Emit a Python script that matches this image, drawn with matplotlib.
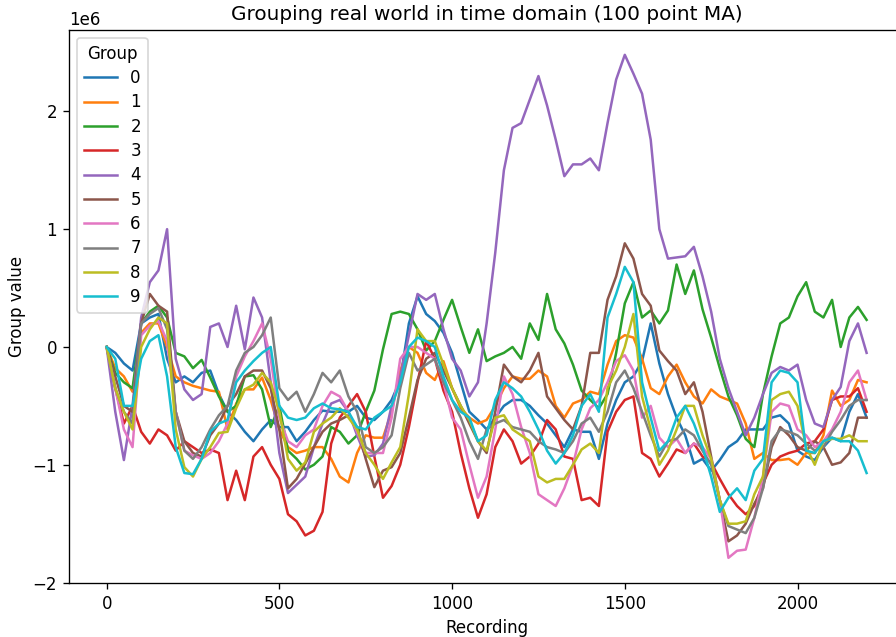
# %% imports
import numpy as np
import matplotlib
matplotlib.use('Agg')
import matplotlib.pyplot as plt

# %% data (group values in millions, every 25 recordings)
recording = np.arange(0, 2201, 25)

g0 = [0.0, -0.05, -0.14, -0.2, 0.2, 0.25, 0.28, -0.1,
      -0.3, -0.25, -0.3, -0.22, -0.2, -0.4, -0.55, -0.62,
      -0.72, -0.8, -0.7, -0.62, -0.68, -0.68, -0.8, -0.72,
      -0.62, -0.54, -0.55, -0.55, -0.55, -0.5, -0.6, -0.62,
      -0.55, -0.45, -0.28, 0.2, 0.43, 0.28, 0.22, 0.12,
      -0.05, -0.3, -0.55, -0.62, -0.7, -0.6, -0.5, -0.45,
      -0.45, -0.5, -0.58, -0.65, -0.75, -0.85, -0.7, -0.72,
      -0.72, -0.95, -0.65, -0.45, -0.3, -0.25, -0.12, 0.2,
      -0.14, -0.4, -0.6, -0.75, -0.99, -0.95, -1.05, -0.96,
      -0.85, -0.8, -0.7, -0.7, -0.7, -0.6, -0.58, -0.65,
      -0.88, -0.93, -0.96, -0.85, -0.77, -0.8, -0.55, -0.4,
      -0.6]
g1 = [0.0, -0.18, -0.25, -0.38, 0.12, 0.2, 0.2, 0.0,
      -0.25, -0.3, -0.33, -0.35, -0.37, -0.38, -0.7, -0.48,
      -0.36, -0.36, -0.26, -0.45, -0.7, -0.85, -0.9, -0.88,
      -0.85, -0.85, -0.95, -1.1, -1.15, -0.9, -0.75, -0.77,
      -0.77, -0.55, -0.2, 0.0, -0.05, -0.22, -0.28, -0.12,
      -0.35, -0.52, -0.6, -0.65, -0.62, -0.5, -0.35, -0.25,
      -0.27, -0.27, -0.2, -0.25, -0.5, -0.6, -0.48, -0.45,
      -0.38, -0.4, -0.15, 0.05, 0.1, 0.08, -0.1, -0.35,
      -0.4, -0.25, -0.15, -0.3, -0.42, -0.48, -0.36, -0.42,
      -0.45, -0.48, -0.65, -0.95, -0.9, -0.96, -0.96, -0.95,
      -1.0, -0.9, -0.9, -0.75, -0.37, -0.5, -0.45, -0.28,
      -0.3]
g2 = [0.0, -0.22, -0.3, -0.35, 0.2, 0.3, 0.35, 0.25,
      -0.05, -0.08, -0.18, -0.11, -0.26, -0.42, -0.55, -0.5,
      -0.25, -0.24, -0.36, -0.68, -0.5, -0.88, -0.95, -1.04,
      -1.0, -0.93, -0.68, -0.72, -0.82, -0.75, -0.55, -0.37,
      -0.02, 0.28, 0.3, 0.28, 0.15, -0.03, 0.05, 0.23,
      0.4, 0.17, -0.05, 0.15, -0.12, -0.08, -0.05, 0.0,
      -0.1, 0.2, 0.06, 0.45, 0.15, 0.03, -0.15, -0.37,
      -0.45, -0.52, -0.4, -0.05, 0.37, 0.55, 0.25, 0.31,
      0.2, 0.31, 0.7, 0.45, 0.65, 0.32, 0.08, -0.18,
      -0.42, -0.58, -0.78, -0.85, -0.4, -0.08, 0.2, 0.25,
      0.43, 0.55, 0.3, 0.25, 0.4, 0.0, 0.25, 0.34,
      0.23]
g3 = [0.0, -0.35, -0.65, -0.5, -0.72, -0.82, -0.7, -0.75,
      -0.88, -0.8, -0.85, -0.9, -0.87, -0.9, -1.3, -1.05,
      -1.3, -0.93, -0.85, -1.0, -1.12, -1.42, -1.48, -1.6,
      -1.56, -1.4, -0.82, -0.6, -0.5, -0.4, -0.55, -0.93,
      -1.28, -1.18, -1.0, -0.68, -0.3, 0.05, -0.1, -0.37,
      -0.55, -0.9, -1.2, -1.45, -1.25, -0.85, -0.7, -0.8,
      -0.99, -0.93, -0.82, -0.62, -0.7, -0.93, -0.95, -1.3,
      -1.28, -1.35, -0.72, -0.55, -0.45, -0.42, -0.9, -0.95,
      -1.1, -0.99, -0.87, -0.9, -0.82, -0.93, -0.98, -1.12,
      -1.25, -1.35, -1.42, -1.35, -1.16, -1.0, -0.93, -0.9,
      -0.88, -0.82, -0.8, -0.7, -0.45, -0.42, -0.42, -0.35,
      -0.55]
g4 = [0.0, -0.55, -0.96, -0.5, 0.25, 0.55, 0.65, 1.0,
      -0.1, -0.36, -0.45, -0.4, 0.17, 0.2, 0.0, 0.35,
      -0.02, 0.42, 0.25, -0.3, -0.9, -1.24, -1.17, -1.1,
      -0.85, -0.65, -0.48, -0.45, -0.55, -0.75, -0.93, -0.92,
      -0.82, -0.5, -0.25, 0.1, 0.45, 0.4, 0.45, 0.15,
      -0.1, -0.2, -0.42, -0.3, 0.2, 0.8, 1.5, 1.86,
      1.9, 2.1, 2.3, 2.05, 1.76, 1.45, 1.55, 1.55,
      1.6, 1.5, 1.9, 2.27, 2.48, 2.32, 2.15, 1.76,
      1.0, 0.75, 0.76, 0.77, 0.85, 0.6, 0.3, -0.1,
      -0.35, -0.55, -0.75, -0.6, -0.4, -0.22, -0.17, -0.2,
      -0.15, -0.45, -0.65, -0.68, -0.45, -0.34, 0.05, 0.2,
      -0.05]
g5 = [0.0, -0.25, -0.5, -0.55, 0.2, 0.45, 0.35, 0.3,
      -0.55, -0.8, -0.9, -0.93, -0.75, -0.65, -0.5, -0.4,
      -0.25, -0.2, -0.2, -0.35, -0.7, -1.2, -1.12, -0.99,
      -0.85, -0.72, -0.65, -0.62, -0.58, -0.68, -0.95, -1.19,
      -1.05, -1.02, -0.9, -0.6, -0.28, -0.1, -0.05, -0.2,
      -0.35, -0.5, -0.65, -0.8, -0.9, -0.55, -0.15, -0.25,
      -0.3, -0.2, -0.05, -0.42, -0.52, -0.62, -0.7, -0.5,
      -0.05, -0.05, 0.4, 0.6, 0.88, 0.75, 0.45, 0.35,
      -0.03, -0.12, -0.2, -0.4, -0.3, -0.55, -0.93, -1.3,
      -1.65, -1.6, -1.5, -1.33, -1.2, -0.85, -0.68, -0.75,
      -0.85, -0.88, -0.8, -0.85, -1.0, -0.98, -0.9, -0.6,
      -0.6]
g6 = [0.0, -0.35, -0.7, -0.85, 0.1, 0.18, 0.22, 0.05,
      -0.55, -0.88, -0.92, -0.95, -0.9, -0.8, -0.65, -0.25,
      -0.08, 0.05, 0.2, -0.1, -0.6, -0.8, -0.85, -0.75,
      -0.7, -0.5, -0.38, -0.42, -0.55, -0.72, -0.9, -0.9,
      -0.9, -0.6, -0.1, 0.0, 0.0, -0.05, -0.1, -0.3,
      -0.6, -0.7, -1.0, -1.28, -1.1, -0.7, -0.25, -0.4,
      -0.68, -0.9, -1.25, -1.3, -1.35, -1.2, -1.0, -0.7,
      -0.52, -0.45, -0.3, -0.12, -0.07, -0.2, -0.6, -0.5,
      -0.77, -0.85, -0.78, -0.9, -0.82, -0.85, -0.95, -1.3,
      -1.79, -1.73, -1.72, -1.45, -1.1, -0.55, -0.48, -0.5,
      -0.7, -0.75, -0.85, -0.8, -0.7, -0.55, -0.3, -0.2,
      -0.45]
g7 = [0.0, -0.35, -0.55, -0.65, 0.2, 0.28, 0.33, 0.15,
      -0.55, -0.88, -0.95, -0.85, -0.7, -0.58, -0.5, -0.2,
      -0.05, 0.0, 0.1, 0.25, -0.35, -0.45, -0.38, -0.55,
      -0.4, -0.22, -0.3, -0.2, -0.42, -0.55, -0.85, -0.9,
      -0.85, -0.75, -0.35, -0.05, -0.2, -0.15, -0.1, -0.3,
      -0.45, -0.6, -0.8, -0.95, -0.7, -0.65, -0.62, -0.68,
      -0.7, -0.72, -0.8, -0.85, -0.87, -0.9, -0.8, -0.65,
      -0.6, -0.72, -0.55, -0.3, -0.2, -0.35, -0.55, -0.75,
      -0.93, -0.8, -0.78, -0.7, -0.75, -0.88, -1.0, -1.3,
      -1.52, -1.55, -1.58, -1.45, -1.2, -0.8, -0.7, -0.72,
      -0.75, -0.82, -0.88, -0.85, -0.72, -0.62, -0.5, -0.45,
      -0.45]
g8 = [0.0, -0.35, -0.55, -0.7, 0.0, 0.15, 0.25, 0.2,
      -0.7, -1.02, -1.1, -0.95, -0.85, -0.73, -0.72, -0.52,
      -0.36, -0.32, -0.22, -0.3, -0.55, -0.95, -1.05, -0.98,
      -0.72, -0.65, -0.6, -0.52, -0.6, -0.7, -0.9, -1.0,
      -1.12, -0.98, -0.85, -0.4, 0.15, 0.05, 0.05, -0.15,
      -0.35, -0.5, -0.62, -0.8, -0.88, -0.6, -0.58, -0.7,
      -0.75, -0.8, -1.1, -1.15, -1.12, -1.12, -1.0, -0.87,
      -0.82, -0.9, -0.35, -0.2, 0.0, 0.28, -0.42, -0.7,
      -1.0, -0.88, -0.7, -0.5, -0.5, -0.75, -0.95, -1.3,
      -1.5, -1.5, -1.48, -1.25, -1.1, -0.45, -0.4, -0.38,
      -0.5, -0.85, -1.0, -0.8, -0.78, -0.78, -0.75, -0.8,
      -0.8]
g9 = [0.0, -0.1, -0.5, -0.5, -0.1, 0.05, 0.1, -0.25,
      -0.85, -1.07, -1.08, -0.95, -0.72, -0.65, -0.62, -0.3,
      -0.2, -0.12, -0.05, 0.0, -0.5, -0.6, -0.62, -0.6,
      -0.52, -0.48, -0.52, -0.53, -0.55, -0.68, -0.7, -0.6,
      -0.55, -0.5, -0.3, 0.0, 0.08, 0.05, 0.0, -0.25,
      -0.45, -0.55, -0.6, -0.8, -0.75, -0.45, -0.3, -0.35,
      -0.42, -0.55, -0.7, -0.88, -0.99, -0.9, -0.75, -0.5,
      -0.4, -0.55, 0.25, 0.45, 0.68, 0.55, -0.3, -0.6,
      -0.88, -0.8, -0.6, -0.5, -0.65, -0.85, -1.1, -1.4,
      -1.28, -1.2, -1.3, -1.05, -0.95, -0.3, -0.2, -0.22,
      -0.3, -0.88, -0.9, -0.8, -0.77, -0.8, -0.8, -0.88,
      -1.07]

groups = [g0, g1, g2, g3, g4, g5, g6, g7, g8, g9]
group_names = [str(i) for i in range(10)]

# %% plot
dpi = 120
fig = plt.figure(figsize=(896 / dpi, 637 / dpi), dpi=dpi)
ax = fig.add_axes([0.0766, 0.0848, 0.933, 0.8686])
for name, vals in zip(group_names, groups):
    ax.plot(recording, np.array(vals) * 1e6, label=name)

ax.set_title('Grouping real world in time domain (100 point MA)')
ax.set_xlabel('Recording')
ax.set_ylabel('Group value')
ax.legend(title='Group', loc='upper left', labelspacing=0.38)

fig.savefig('out.png', dpi=dpi)
